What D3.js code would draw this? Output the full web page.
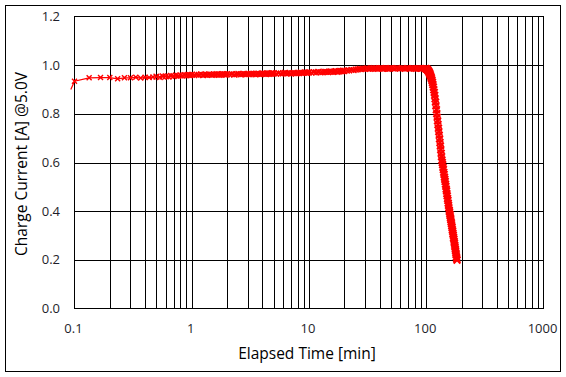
<!DOCTYPE html>
<html>
<head>
<meta charset="utf-8">
<script src="https://cdn.jsdelivr.net/npm/d3@7"></script>
<style>
  html, body { margin: 0; padding: 0; background: #fff; }
  svg { display: block; }
  text { font-family: "Open Sans", "DejaVu Sans", sans-serif; }
</style>
</head>
<body>
<div id="chart"></div>
<script>
// ---- data ----
const xTickValues = [0.1, 1, 10, 100, 1000];
const xTickLabels = ["0.1", "1", "10", "100", "1000"];
const yTickValues = [0.0, 0.2, 0.4, 0.6, 0.8, 1.0, 1.2];
const yTickLabels = ["0.0", "0.2", "0.4", "0.6", "0.8", "1.0", "1.2"];

// early samples (2 s interval), minutes
const sparseTime = [0.093, 0.1, 0.1333, 0.1667, 0.2, 0.2333, 0.2667, 0.3, 0.3333, 0.3667, 0.4, 0.4333,
  0.4667, 0.5, 0.5333, 0.5667, 0.6, 0.6333, 0.6667, 0.7, 0.7333, 0.7667, 0.8, 0.8333, 0.8667, 0.9,
  0.9333, 0.9667, 1.0];
const sparseCurrent = [0.900, 0.934, 0.948, 0.949, 0.949, 0.944, 0.948, 0.948, 0.950, 0.947, 0.950, 0.949,
  0.951, 0.953, 0.951, 0.954, 0.954, 0.953, 0.956, 0.955, 0.957, 0.956, 0.958, 0.957, 0.959, 0.958,
  0.960, 0.959, 0.960];

// plateau
const plateauTime = [1.05, 1.1, 1.15, 1.2, 1.25, 1.3, 1.35, 1.4, 1.45, 1.5, 1.55, 1.6, 1.65, 1.7, 1.75,
  1.8, 1.85, 1.9, 1.95, 2.0,
  2.1, 2.2, 2.3, 2.4, 2.5, 2.6, 2.7, 2.8, 2.9, 3.0, 3.1, 3.2, 3.3, 3.4, 3.5, 3.6, 3.7, 3.8, 3.9, 4.0,
  4.1, 4.2, 4.3, 4.4, 4.5, 4.6, 4.7, 4.8, 4.9, 5.0,
  5.25, 5.5, 5.75, 6.0, 6.25, 6.5, 6.75, 7.0, 7.25, 7.5, 7.75, 8.0, 8.25, 8.5, 8.75, 9.0, 9.25, 9.5,
  9.75, 10.0,
  10.5, 11, 11.5, 12, 12.5, 13, 13.5, 14, 14.5, 15, 15.5, 16, 16.5, 17, 17.5, 18, 18.5, 19, 19.5, 20,
  21, 22, 23, 24, 25, 26, 27, 28, 29, 30, 31, 32, 33, 34, 35, 36, 37, 38, 39, 40, 41, 42, 43, 44, 45,
  46, 47, 48, 49, 50,
  52, 54, 56, 58, 60, 62, 64, 66, 68, 70, 72, 74, 76, 78, 80, 82, 84, 86, 88, 90, 92, 94, 96, 98];
const plateauCurrent = [0.959, 0.961, 0.960, 0.962, 0.959, 0.961, 0.960, 0.962, 0.961, 0.960, 0.962, 0.961,
  0.963, 0.960, 0.962, 0.961, 0.963, 0.962, 0.961, 0.963,
  0.962, 0.963, 0.961, 0.963, 0.964, 0.962, 0.963, 0.964, 0.962, 0.964, 0.963, 0.965, 0.963, 0.964,
  0.962, 0.964, 0.965, 0.963, 0.964, 0.966, 0.964, 0.965, 0.963, 0.965, 0.966, 0.964, 0.965, 0.967,
  0.965, 0.966,
  0.965, 0.967, 0.965, 0.966, 0.968, 0.966, 0.967, 0.965, 0.967, 0.968, 0.966, 0.968, 0.967, 0.969,
  0.967, 0.968, 0.970, 0.968, 0.969, 0.970,
  0.969, 0.971, 0.970, 0.972, 0.970, 0.971, 0.973, 0.972, 0.971, 0.973, 0.974, 0.972, 0.974, 0.975,
  0.973, 0.975, 0.976, 0.975, 0.977, 0.976,
  0.978, 0.979, 0.981, 0.980, 0.982, 0.983, 0.985, 0.984, 0.986, 0.985, 0.987, 0.986, 0.985, 0.987,
  0.986, 0.988, 0.986, 0.987, 0.985, 0.987, 0.988, 0.986, 0.987, 0.986, 0.988, 0.987, 0.985, 0.987,
  0.986, 0.988,
  0.987, 0.986, 0.988, 0.987, 0.986, 0.988, 0.987, 0.985, 0.987, 0.988, 0.986, 0.987, 0.988, 0.986,
  0.987, 0.985, 0.987, 0.988, 0.986, 0.987, 0.986, 0.988, 0.987, 0.986];

// end of charge: current falls off
const dropTime = [99, 100, 101, 102, 103, 104, 105, 106, 107, 108, 109, 110, 111, 112, 113, 114, 115,
  116, 117, 118, 119, 120, 121, 122, 123, 124, 125, 126, 127, 128, 129, 130, 131, 132, 133, 134, 135,
  136, 137, 138, 139, 140, 141, 142, 143, 144, 145, 146, 147, 148, 149, 150, 151, 152, 153, 154, 155,
  156, 157, 158, 159, 160, 161, 162, 163, 164, 165, 166, 167, 168, 169, 170, 171, 172, 173, 174, 175,
  176, 177, 178, 179, 180, 181, 182, 183];
const dropCurrent = [0.986, 0.985, 0.984, 0.982, 0.980, 0.977, 0.974, 0.970, 0.966, 0.961, 0.956, 0.950,
  0.944, 0.937, 0.929, 0.920, 0.910, 0.899, 0.888, 0.876, 0.862, 0.848, 0.833, 0.817, 0.801, 0.786,
  0.771, 0.756, 0.741, 0.727, 0.712, 0.697, 0.682, 0.668, 0.653, 0.638, 0.624, 0.610, 0.600, 0.591,
  0.580, 0.571, 0.560, 0.551, 0.540, 0.531, 0.522, 0.511, 0.502, 0.491, 0.483, 0.472, 0.463, 0.452,
  0.444, 0.433, 0.424, 0.414, 0.404, 0.397, 0.388, 0.381, 0.372, 0.365, 0.356, 0.349, 0.340, 0.333,
  0.324, 0.317, 0.308, 0.301, 0.292, 0.285, 0.276, 0.269, 0.260, 0.253, 0.244, 0.237, 0.228, 0.221,
  0.212, 0.205, 0.199];

const seriesColor = "#ff0000";

// ---- layout ----
const W = 566, H = 377;
const plot = { left: 74.5, right: 543.5, top: 16.5, bottom: 308.5 };

const svg = d3.select("#chart").append("svg").attr("width", W).attr("height", H);

// outer border
svg.append("rect").attr("x", 5.5).attr("y", 5.5).attr("width", 555).attr("height", 366)
  .attr("fill", "none").attr("stroke", "#000").attr("stroke-width", 1);

const x = d3.scaleLog().domain([0.1, 1000]).range([plot.left, plot.right]);
const y = d3.scaleLinear().domain([0, 1.2]).range([plot.bottom, plot.top]);

// grid lines
const grid = svg.append("g").attr("shape-rendering", "crispEdges");
const xGrid = x.ticks().filter(v => v > 0.1 && v < 1000);
grid.selectAll("line.vx").data(xGrid).join("line")
  .attr("x1", d => Math.round(x(d)) + 0.5).attr("x2", d => Math.round(x(d)) + 0.5)
  .attr("y1", plot.top).attr("y2", plot.bottom)
  .attr("stroke", "#000").attr("stroke-width", 1);
grid.selectAll("line.hy").data(yTickValues.filter(v => v > 0 && v < 1.2)).join("line")
  .attr("x1", plot.left).attr("x2", plot.right)
  .attr("y1", d => Math.round(y(d)) + 0.5).attr("y2", d => Math.round(y(d)) + 0.5)
  .attr("stroke", "#000").attr("stroke-width", 1);
grid.append("rect").attr("x", plot.left).attr("y", plot.top)
  .attr("width", plot.right - plot.left).attr("height", plot.bottom - plot.top)
  .attr("fill", "none").attr("stroke", "#000").attr("stroke-width", 1);

// tick labels
svg.append("g").selectAll("text").data(yTickValues).join("text")
  .attr("x", 60).attr("y", d => y(d) + 4.5)
  .attr("text-anchor", "end").attr("font-size", 13).attr("fill", "#1e1e2a")
  .text((d, i) => yTickLabels[i]);
svg.append("g").selectAll("text").data(xTickValues).join("text")
  .attr("x", d => x(d) - 1).attr("y", 333)
  .attr("text-anchor", "middle").attr("font-size", 13).attr("fill", "#1e1e2a")
  .text((d, i) => xTickLabels[i]);

// axis titles
svg.append("text").attr("x", 307).attr("y", 359).attr("text-anchor", "middle")
  .attr("font-size", 15.5).attr("fill", "#000").text("Elapsed Time [min]");
svg.append("text").attr("transform", "translate(27,164) rotate(-90)").attr("text-anchor", "middle")
  .attr("font-size", 15.5).attr("fill", "#000").text("Charge Current [A] @5.0V");

// series
const times = sparseTime.concat(plateauTime, dropTime);
const currents = sparseCurrent.concat(plateauCurrent, dropCurrent);
const data = times.map((t, i) => ({ t, c: currents[i] }));

const line = d3.line().x(d => x(d.t)).y(d => y(d.c));
svg.append("path").datum(data).attr("d", line)
  .attr("fill", "none").attr("stroke", seriesColor).attr("stroke-width", 1.2);

svg.append("g").selectAll("path").data(data.filter(d => d.t >= 0.1)).join("path")
  .attr("transform", d => `translate(${x(d.t)},${y(d.c)})`)
  .attr("d", d => {
    const s = d.t < 0.5 ? 2.5 : (d.t < 99 ? 2.9 : 3.4);
    return `M${-s},${-s}L${s},${s}M${-s},${s}L${s},${-s}`;
  })
  .attr("stroke", seriesColor).attr("stroke-width", d => d.t < 99 ? 1.4 : 2)
  .attr("fill", "none");
</script>
</body>
</html>
